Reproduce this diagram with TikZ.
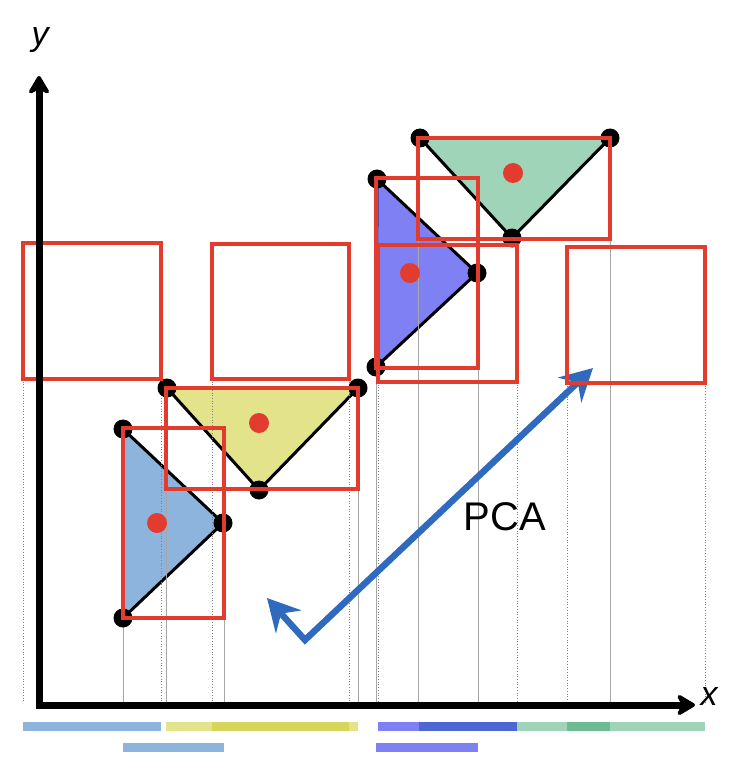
\documentclass[tikz,border=0pt]{standalone}
\usepackage{fontspec}
\setsansfont{Liberation Sans}
\usepackage{tikz}
\usetikzlibrary{arrows.meta}
\usepackage{xcolor}

\definecolor{boxred}{RGB}{226,60,46}
\definecolor{shapeblue}{RGB}{141,180,220}
\definecolor{shapeyellow}{RGB}{227,227,140}
\definecolor{yellowdeep}{RGB}{214,213,92}
\definecolor{shapepurple}{RGB}{128,128,245}
\definecolor{purpledeep}{RGB}{78,102,212}
\definecolor{shapegreen}{RGB}{159,212,184}
\definecolor{greendeep}{RGB}{109,187,147}
\definecolor{pcablue}{RGB}{47,106,190}

\begin{document}
\begin{tikzpicture}[
        x=1pt, y=-1pt,
        axis/.style={line width=7pt, line join=miter,
                     {Stealth[length=22pt,width=26pt,inset=7pt,round]}-{Stealth[length=22pt,width=26pt,inset=7pt,round]}},
        pcaarrow/.style={line width=6.5pt, draw=pcablue, line join=miter,
                         {Stealth[length=32pt,width=34pt,inset=11pt]}-{Stealth[length=32pt,width=34pt,inset=11pt]}},
        tri/.style={draw=black, line width=3pt, line join=round},
        bbox/.style={draw=boxred, line width=4.8pt},
        vertex/.style={fill=black},
        centre/.style={fill=boxred},
        guide/.style={draw=black!35, line width=0.6pt},
        dguide/.style={draw=black!50, line width=0.7pt, dotted},
        axislabel/.style={font=\sffamily\itshape\fontsize{34}{34}\selectfont}
    ]
    \useasboundingbox (0,0) rectangle (738,770);

    %% TRIANGLES
    \draw[tri, fill=shapeblue]   (123,429) -- (123,618) -- (223,523) -- cycle;
    \draw[tri, fill=shapeyellow] (167,388) -- (358,388) -- (259,490) -- cycle;
    \draw[tri, fill=shapepurple] (377,179) -- (376,367) -- (477,273) -- cycle;
    \draw[tri, fill=shapegreen]  (420,138) -- (610,138) -- (512,238) -- cycle;

    %% PROJECTION GUIDES
    \foreach \gx/\gy in {23/379, 161/379, 212/379, 349/379,
                         378/382, 517/382, 567/383, 705/383}
        \draw[dguide] (\gx,\gy) -- (\gx,703);
    \foreach \gx/\gy in {123/618, 224/618, 166/489, 358/489,
                         376/368, 478/368, 418/239, 610/239}
        \draw[guide] (\gx,\gy) -- (\gx,703);

    %% VERTICES
    \foreach \vx/\vy in {123/429, 123/618, 223/523,
                         167/388, 358/388, 259/490,
                         377/179, 376/367, 477/273,
                         420/138, 610/138, 512/238}
        \fill[vertex] (\vx,\vy) circle (9.5);

    %% PCA
    \coordinate (pcacorner) at (305,640);
    \coordinate (pcamajor)  at (593,368);
    \coordinate (pcaminor)  at (267,598);
    \draw[pcaarrow] (pcaminor) -- (pcacorner) -- (pcamajor);
    \node[font=\sffamily\fontsize{40}{40}\selectfont] (pcalabel) at (505,517) {PCA};

    %% BOUNDING BOXES
    \draw[bbox] (123,428) rectangle (224,618);
    \draw[bbox] (166,388) rectangle (358,489);
    \draw[bbox] (376,178) rectangle (478,368);
    \draw[bbox] (418,138) rectangle (610,239);
    \draw[bbox] (23,243)  rectangle (161,379);
    \draw[bbox] (212,244) rectangle (349,379);
    \draw[bbox] (378,245) rectangle (517,382);
    \draw[bbox] (567,247) rectangle (705,383);

    \foreach \cx/\cy in {157/523, 259/423, 410/273, 513/173}
        \fill[centre] (\cx,\cy) circle (10);

    %% AXES
    \coordinate (origin) at (39,705);
    \coordinate (ytip)   at (39,76);
    \coordinate (xtip)   at (695,705);
    \draw[axis] (ytip) -- (origin) -- (xtip);
    \node[axislabel] (ylab) at (40,40)  {y};
    \node[axislabel] (xlab) at (709,697) {x};

    %% INTERVALS
    \foreach \xa/\xb/\col in {23/161/shapeblue, 166/358/shapeyellow,
                              212/349/yellowdeep, 378/419/shapepurple,
                              419/517/purpledeep, 517/567/shapegreen,
                              567/610/greendeep, 610/705/shapegreen}
        \fill[\col] (\xa,722) rectangle (\xb,731);
    \foreach \xa/\xb/\col in {123/224/shapeblue, 376/478/shapepurple}
        \fill[\col] (\xa,743) rectangle (\xb,752);

\end{tikzpicture}
\end{document}
